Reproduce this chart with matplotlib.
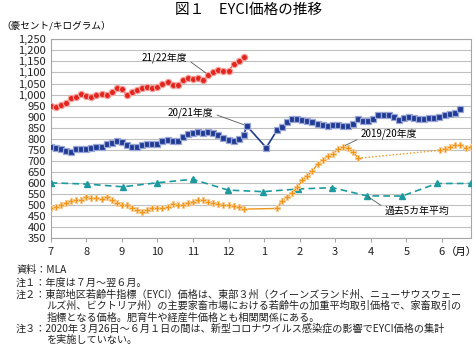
"""
図1 EYCI価格の推移 — weekly-ish EYCI prices by fiscal year (Jul-Jun)
"""

import numpy as np
import matplotlib
matplotlib.use("Agg")
import matplotlib.pyplot as plt

plt.rcParams["font.family"] = ["Noto Sans CJK JP", "DejaVu Sans"]

W, H = 476, 363

# x axis is months since 1 July; observations are plotted every 1/7 month
STEP = 1 / 7
month_labels = ["7", "8", "9", "10", "11", "12", "1", "2", "3", "4", "5", "6"]

# 2021/22
red_start = 0.0
red_vals = [947, 944, 955, 963, 985, 990, 1003, 995, 990, 998,
            1003, 1000, 1012, 1030, 1025, 998, 1012, 1022, 1028, 1033,
            1030, 1035, 1048, 1058, 1042, 1045, 1065, 1075, 1072, 1075,
            1068, 1090, 1103, 1112, 1108, 1105, 1140, 1152, 1172]

# 2020/21 (holiday break: sparse observations in between)
blue_start_1 = 0.0
blue_vals_1 = [765, 758, 752, 745, 742, 752, 754, 752, 760, 762,
               765, 775, 782, 788, 785, 772, 762, 765, 772, 776,
               776, 778, 790, 793, 788, 790, 810, 822, 828, 830,
               826, 830, 826, 818, 803, 793, 791, 800, 815]
blue_gap_x = [5.51, 6.06]
blue_gap_vals = [859, 760]
blue_start_2 = 6.36
blue_vals_2 = [838, 852, 875, 888, 890, 887, 880, 875, 868, 864,
               860, 862, 862, 860, 856, 865, 890, 882, 880, 890,
               909, 909, 908, 898, 887, 893, 897, 894, 891, 891,
               892, 895, 897, 908, 912, 915, 935]

# 2019/20 (no EYCI between 26 Mar and 1 Jun 2020)
orange_start_1 = 0.0
orange_vals_1 = [485, 490, 500, 510, 520, 523, 525, 535, 530, 530,
                 527, 535, 523, 508, 502, 500, 489, 477, 470, 478,
                 488, 489, 485, 490, 505, 502, 500, 510, 515, 523,
                 524, 516, 510, 505, 500, 500, 495, 493, 482]
orange_start_2 = 6.36
orange_vals_2 = [485, 520, 538, 555, 580, 612, 632, 655, 685, 705,
                 720, 732, 752, 765, 760, 742, 712]
orange_start_3 = 10.95
orange_vals_3 = [748, 755, 764, 770, 772, 757, 765]

# 過去5カ年平均 (monthly)
avg_x = [0, 1.03, 2.02, 2.99, 3.99, 4.99, 5.97, 6.96, 7.92, 8.89, 9.88, 10.86, 11.81]
avg_vals = [601, 595, 583, 601, 617, 568, 561, 573, 579, 542, 541, 598, 598]

RED, RED_EDGE = "#E3231D", "#F3A09A"
BLUE, BLUE_EDGE = "#1F3A93", "#9AA6D6"
ORANGE, ORANGE_EDGE = "#F0941A", "#F8CB8E"
TEAL = "#1C9AA0"
GRID = "#BFBFBF"


def _xs(start, n):
    return start + np.arange(n) * STEP


fig = plt.figure(figsize=(W / 100, H / 100), dpi=100)
ax = fig.add_axes([50.7 / W, 1 - 238.3 / H, 420 / W, 199 / H])

ax.set_xlim(0, 11.81)
ax.set_ylim(350, 1250)
ax.set_yticks(np.arange(350, 1251, 50))
ax.set_yticklabels([f"{v:,}" for v in range(350, 1251, 50)])
ax.set_xticks(np.arange(12))
ax.set_xticklabels(month_labels)
ax.yaxis.grid(True, color=GRID, linewidth=0.8)
ax.set_axisbelow(True)
for sp in ax.spines.values():
    sp.set_color("#A6A6A6")
    sp.set_linewidth(0.8)
ax.tick_params(axis="y", length=0, pad=3.5, labelsize=8, colors="#222222")
ax.tick_params(axis="x", length=3, pad=3.5, labelsize=8, colors="#222222",
               color="#A6A6A6")

# 5-year average
ax.plot(avg_x, avg_vals, color=TEAL, linewidth=1.2, dashes=(4, 2.5),
        marker="^", markersize=3.8, markerfacecolor=TEAL, markeredgecolor=TEAL, zorder=3)

# 2019/20
ox = np.concatenate([_xs(orange_start_1, len(orange_vals_1)), _xs(orange_start_2, len(orange_vals_2))])
oy = orange_vals_1 + orange_vals_2
ox3 = _xs(orange_start_3, len(orange_vals_3))
ax.plot(ox, oy, color=ORANGE, linewidth=1.0, marker="P", markersize=4.8,
        markerfacecolor=ORANGE, markeredgecolor=ORANGE_EDGE, markeredgewidth=0.7, zorder=4)
ax.plot([ox[-1], ox3[0]], [oy[-1], orange_vals_3[0]], color=ORANGE, linewidth=1.0,
        linestyle=(0, (1, 1.5)), zorder=4)
ax.plot(ox3, orange_vals_3, color=ORANGE, linewidth=1.0, marker="P", markersize=4.8,
        markerfacecolor=ORANGE, markeredgecolor=ORANGE_EDGE, markeredgewidth=0.7, zorder=4)

# 2020/21
bx = np.concatenate([_xs(blue_start_1, len(blue_vals_1)), blue_gap_x,
                     _xs(blue_start_2, len(blue_vals_2))])
by = blue_vals_1 + blue_gap_vals + blue_vals_2
ax.plot(bx, by, color=BLUE, linewidth=1.2, marker="s", markersize=3.9,
        markerfacecolor=BLUE, markeredgecolor=BLUE_EDGE, markeredgewidth=0.9, zorder=5)

# 2021/22
rx = _xs(red_start, len(red_vals))
ax.plot(rx, red_vals, color=RED, linewidth=0.8, marker="o", markersize=4.5,
        markerfacecolor=RED, markeredgecolor=RED_EDGE, markeredgewidth=0.9, zorder=6)

# series labels with leader lines
lead = dict(arrowstyle="-", color="#555555", linewidth=0.6, shrinkA=1, shrinkB=1)
ax.annotate("21/22年度", xy=(rx[31], red_vals[31]), xytext=(3.19, 1165),
            ha="center", va="center", fontsize=7.1,
            arrowprops=dict(lead, relpos=(1, 0.4)))
ax.annotate("20/21年度", xy=(blue_gap_x[0], blue_gap_vals[0]), xytext=(3.92, 919),
            ha="center", va="center", fontsize=7.1,
            arrowprops=dict(lead, relpos=(1, 0.4)))
ax.annotate("2019/20年度", xy=(ox[-4], oy[-4]), xytext=(9.52, 824),
            ha="center", va="center", fontsize=7.1,
            arrowprops=dict(lead, relpos=(0, 0.1)))
ax.annotate("過去5カ年平均", xy=(avg_x[9], avg_vals[9]), xytext=(10.31, 473),
            ha="center", va="center", fontsize=7.1,
            arrowprops=dict(lead, relpos=(0, 0.8)))


def fpos(x, y):
    return x / W, 1 - y / H


fig.text(*fpos(249, 10), "図１　EYCI価格の推移", ha="center", va="center", fontsize=10.5)
fig.text(*fpos(1, 26), "（豪セント/キログラム）", ha="left", va="center", fontsize=6.9)
fig.text(*fpos(461, 252), "（月）", ha="center", va="center", fontsize=7.5)

notes = [
    (16, 270, "資料：MLA"),
    (16, 282.5, "注１：年度は７月～翌６月。"),
    (16, 294.3, "注２：東部地区若齢牛指標（EYCI）価格は、東部３州（クイーンズランド州、ニューサウスウェー"),
    (46.7, 305.8, "ルズ州、ビクトリア州）の主要家畜市場における若齢牛の加重平均取引価格で、家畜取引の"),
    (46.7, 317.2, "指標となる価格。肥育牛や経産牛価格とも相関関係にある。"),
    (16, 328.5, "注３：2020年３月26日～６月１日の間は、新型コロナウイルス感染症の影響でEYCI価格の集計"),
    (46.7, 340, "を実施していない。"),
]
for x, y, s in notes:
    fig.text(*fpos(x, y), s, ha="left", va="center", fontsize=7.3, color="#222222")

fig.savefig("out.png", dpi=100)
plt.close(fig)
